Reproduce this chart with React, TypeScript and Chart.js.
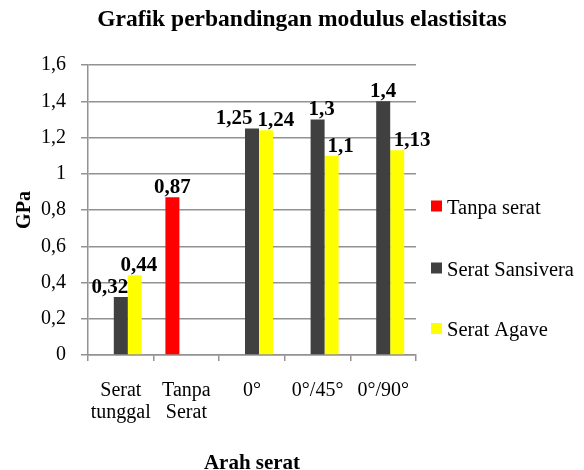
import React, { useEffect, useRef } from "react";
import { Chart, registerables } from "chart.js";

Chart.register(...registerables);

const chartTitle = "Grafik perbandingan modulus elastisitas";
const xTitle = "Arah serat";
const yTitle = "GPa";
const categories: (string | string[])[] = [["Serat", "tunggal"], ["Tanpa", "Serat"], "0°", "0°/45°", "0°/90°"];
const seriesNames = ["Tanpa serat", "Serat Sansivera", "Serat Agave"];
const tanpaSerat = [null, 0.87, null, null, null];
const seratSansivera = [0.32, null, 1.25, 1.3, 1.4];
const seratAgave = [0.44, null, 1.24, 1.1, 1.13];
const yMin = 0;
const yMax = 1.6;
const yStep = 0.2;

const colors = ["#FF0000", "#404040", "#FFFF00"];
// horizontal nudges of the value labels (styling only)
const labelNudge = [
  [0, 0, 0, 0, 0],
  [-11, 0, -18, 4, 0],
  [4, 0, 10, 9, 15],
];
const FONT = '"Liberation Serif", "Times New Roman", serif';
const GRID = "#929292";

const fmt = (v: number) => String(v).replace(".", ",");

const overlay = {
  id: "overlay",
  afterDraw(chart: any) {
    const ctx = chart.ctx as CanvasRenderingContext2D;
    const area = chart.chartArea;
    ctx.save();
    ctx.fillStyle = "#000";
    // title
    ctx.font = `bold 23.5px ${FONT}`;
    ctx.textAlign = "center";
    ctx.textBaseline = "alphabetic";
    ctx.fillText(chartTitle, 302, 26);
    // x title
    ctx.font = `bold 21px ${FONT}`;
    ctx.fillText(xTitle, (area.left + area.right) / 2, 469);
    // y title
    ctx.save();
    ctx.translate(25, (area.top + area.bottom) / 2);
    ctx.rotate(-Math.PI / 2);
    ctx.textBaseline = "middle";
    ctx.font = `bold 20px ${FONT}`;
    ctx.fillText(yTitle, 0, 0);
    ctx.restore();
    // value labels
    ctx.font = `bold 21px ${FONT}`;
    ctx.textAlign = "center";
    ctx.textBaseline = "alphabetic";
    chart.data.datasets.forEach((ds: any, i: number) => {
      const meta = chart.getDatasetMeta(i);
      meta.data.forEach((bar: any, j: number) => {
        const v = ds.data[j];
        if (v == null) return;
        ctx.fillText(fmt(v), bar.x + labelNudge[i][j], bar.y - 4);
      });
    });
    // legend
    ctx.font = `20.5px ${FONT}`;
    ctx.textAlign = "left";
    const centers = [206, 268, 328.5];
    seriesNames.forEach((name, i) => {
      ctx.fillStyle = colors[i];
      ctx.fillRect(431, centers[i] - 5.5, 11, 11);
      ctx.fillStyle = "#000";
      ctx.fillText(name, 447, centers[i] + 7.5);
    });
    ctx.restore();
  },
};

export default function App() {
  const ref = useRef<HTMLCanvasElement | null>(null);
  useEffect(() => {
    if (!ref.current) return;
    const chart = new Chart(ref.current, {
      type: "bar",
      data: {
        labels: categories,
        datasets: [
          { label: seriesNames[0], data: tanpaSerat, backgroundColor: colors[0] },
          { label: seriesNames[1], data: seratSansivera, backgroundColor: colors[1] },
          { label: seriesNames[2], data: seratAgave, backgroundColor: colors[2] },
        ],
      },
      options: {
        animation: false,
        responsive: false,
        devicePixelRatio: 1,
        layout: { padding: { top: 65, right: 168, left: 0, bottom: 0 } },
        datasets: { bar: { categoryPercentage: 0.64, barPercentage: 1 } },
        plugins: { legend: { display: false }, title: { display: false }, tooltip: { enabled: false } },
        scales: {
          x: {
            offset: true,
            grid: { display: true, drawOnChartArea: false, drawTicks: true, tickLength: 6, color: GRID, lineWidth: 1.5, offset: true },
            border: { display: true, color: GRID, width: 1.5 },
            ticks: { color: "#000", font: { family: FONT, size: 20, lineHeight: 1.1 }, padding: 18.5, maxRotation: 0, autoSkip: false },
            afterFit: (s: any) => { s.height = 470 - 355; },
          },
          y: {
            min: yMin,
            max: yMax,
            grid: { color: GRID, lineWidth: 1.5, tickLength: 7, drawTicks: true },
            border: { display: true, color: GRID, width: 1.5 },
            ticks: { stepSize: yStep, color: "#000", font: { family: FONT, size: 20 }, padding: 15, callback: (v: any) => fmt(Math.round(Number(v) * 10) / 10) },
            afterFit: (s: any) => { s.width = 88; },
          },
        },
      },
      plugins: [overlay],
    });
    return () => chart.destroy();
  }, []);
  return (
    <div style={{ position: "absolute", left: 0, top: 0, width: 584, height: 470, background: "#fff" }}>
      <canvas ref={ref} width={584} height={470} />
    </div>
  );
}
